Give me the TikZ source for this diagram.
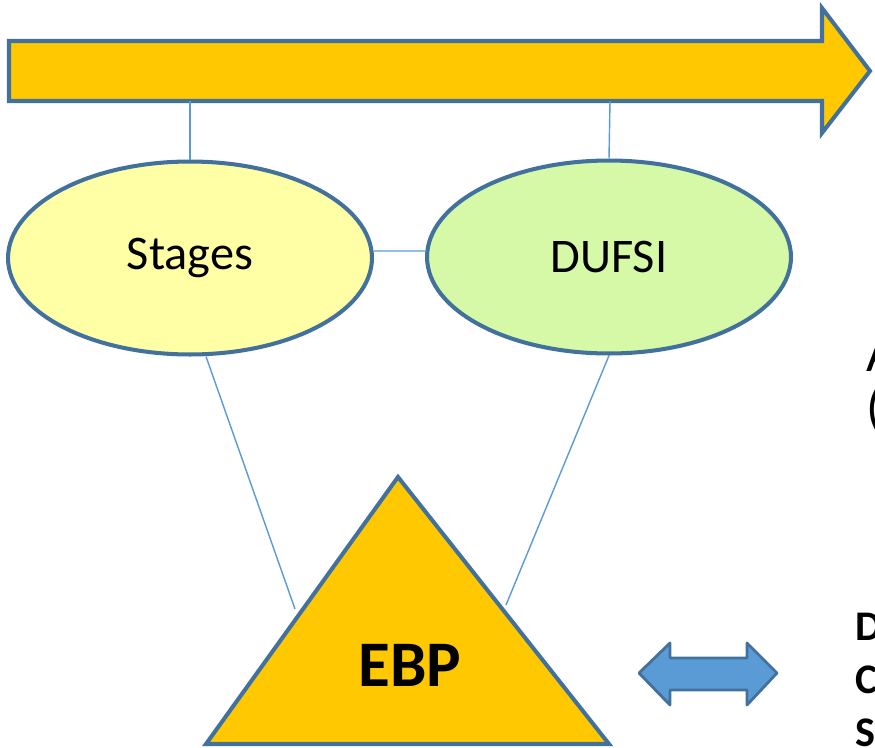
\documentclass[tikz,border=0pt]{standalone}
\usepackage{fontspec}
\setmainfont{Carlito}
\usetikzlibrary{shapes.geometric}
\definecolor{rim}{HTML}{41719C}
\definecolor{gold}{HTML}{FFC800}
\definecolor{thin}{HTML}{5B9BD5}
\definecolor{paleyellow}{HTML}{FFFFA6}
\definecolor{palegreen}{HTML}{D5F9A6}
\tikzset{
  shape rim/.style={draw=rim, line width=2.3pt, line join=miter},
  oval/.style={shape rim, ellipse, minimum width=7.28cm, minimum height=3.86cm, inner sep=0pt, font=\fontsize{27.5}{30}\selectfont},
  link/.style={draw=thin, line width=0.8pt},
}
\begin{document}
\begin{tikzpicture}[x=0.02cm,y=-0.02cm]
\useasboundingbox (0,0) rectangle (875,747);
\filldraw[shape rim, fill=gold] (9,41) -- (822,41) -- (822,8) -- (870,71) -- (822,133) -- (822,101) -- (9,101) -- cycle; % time arrow
\coordinate (tick1) at (190,101);
\coordinate (tick2) at (610,101);
\node[oval, fill=paleyellow] (stages) at (190,258) {Stages};
\node[oval, fill=palegreen] (dufsi) at (609,257) {DUFSI};
\draw[link] (tick1) -- (stages.north);
\draw[link] (tick2) -- (dufsi.north);
\draw[link] ([yshift=0.14cm]stages.east) -- ([yshift=0.12cm]dufsi.west);
% triangle
\coordinate (apex) at (398,477);
\coordinate (baseL) at (206,744);
\coordinate (baseR) at (609,744);
\coordinate (footL) at (295,609);
\coordinate (footR) at (506,605);
\draw[link] (stages.south) ++(16,0) coordinate (topL) -- (footL);
\draw[link] (dufsi.south) coordinate (topR) -- (footR);
\filldraw[shape rim, fill=gold] (apex) -- (baseR) -- (baseL) -- cycle;
\node[font=\fontsize{37}{40}\selectfont\bfseries] (ebp) at (410,665) {EBP};
% double arrow
\filldraw[draw=rim, line width=1.6pt, line join=round, fill=thin] (639,673) -- (670,643) -- (670,658) -- (747,658) -- (747,643) -- (777,673) -- (747,705) -- (747,690) -- (670,690) -- (670,705) -- cycle;
% text cut at the right edge
\node[anchor=west, font=\fontsize{30}{34}\selectfont] (capA) at (860,355) {A};
\node[anchor=west, font=\fontsize{30}{34}\selectfont] (paren) at (860,410) {(};
\node[anchor=west, font=\fontsize{24}{28}\selectfont\bfseries] (capD) at (849,627) {D};
\node[anchor=west, font=\fontsize{24}{28}\selectfont\bfseries] (capC) at (849,680) {C};
\node[anchor=west, font=\fontsize{24}{28}\selectfont\bfseries] (capS) at (849,733) {S};
\end{tikzpicture}
\end{document}
